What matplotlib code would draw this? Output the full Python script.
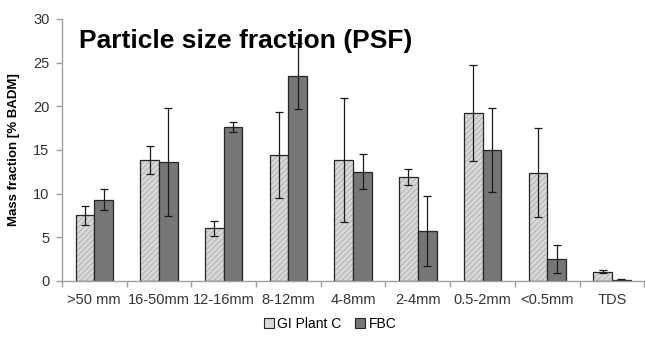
import matplotlib.pyplot as plt
import numpy as np

plt.rcParams['font.family'] = ['Liberation Sans', 'DejaVu Sans']

categories = ['>50 mm', '16-50mm', '12-16mm', '8-12mm', '4-8mm', '2-4mm', '0.5-2mm', '<0.5mm', 'TDS']
gi_plant = [7.5, 13.8, 6.0, 14.4, 13.9, 11.9, 19.2, 12.4, 1.05]
gi_err = [1.1, 1.6, 0.9, 4.9, 7.1, 0.9, 5.5, 5.1, 0.2]
fbc = [9.3, 13.6, 17.6, 23.5, 12.5, 5.7, 15.0, 2.5, 0.15]
fbc_err = [1.2, 6.2, 0.6, 3.8, 2.0, 4.0, 4.8, 1.6, 0.05]
yticks = [0, 5, 10, 15, 20, 25, 30]

light = '#d9d9d9'
dark = '#767676'
edge = '#262626'
axcol = '#a0a0a0'

fig = plt.figure(figsize=(6.45, 3.38), dpi=100)
ax = fig.add_axes([0.096, 0.169, 0.903, 0.775])

x = np.arange(len(categories))
w = 0.29

# hatched fill for the light series, then outline on top
ax.bar(x - w/2, gi_plant, w, color=light, edgecolor='#bcbcbc', hatch='//////', linewidth=0)
ax.bar(x - w/2, gi_plant, w, color='none', edgecolor=edge, linewidth=0.9, label='GI Plant C')
ax.bar(x + w/2, fbc, w, color=dark, edgecolor=edge, linewidth=0.9, label='FBC')

ax.errorbar(x - w/2, gi_plant, yerr=gi_err, fmt='none', ecolor='#1a1a1a', elinewidth=0.9, capsize=3, capthick=0.9)
ax.errorbar(x + w/2, fbc, yerr=fbc_err, fmt='none', ecolor='#1a1a1a', elinewidth=0.9, capsize=3, capthick=0.9)

ax.set_xlim(-0.5, len(categories) - 0.5)
ax.set_ylim(0, 30)
ax.set_yticks(yticks)
ax.set_xticks(x)
ax.set_xticklabels(categories)
ax.set_xticks(np.arange(len(categories) + 1) - 0.5, minor=True)
ax.tick_params(axis='x', which='major', length=0, pad=9, labelsize=10.5, labelcolor='#333333')
ax.tick_params(axis='x', which='minor', length=4, color=axcol, width=1)
ax.tick_params(axis='y', length=4, color=axcol, width=1, labelsize=10.5, labelcolor='#333333', pad=5)

for s in ['top', 'right']:
    ax.spines[s].set_visible(False)
for s in ['left', 'bottom']:
    ax.spines[s].set_color(axcol)
    ax.spines[s].set_linewidth(1)

ax.set_ylabel('Mass fraction [% BADM]', fontsize=9.5, fontweight='bold')
ax.yaxis.set_label_coords(-0.072, 0.5)
ax.text(0.03, 0.915, 'Particle size fraction (PSF)', transform=ax.transAxes,
        fontsize=19, fontweight='bold', va='center', ha='left')

h1 = plt.Rectangle((0, 0), 1, 1, facecolor=light, edgecolor=edge, linewidth=0.8)
h2 = plt.Rectangle((0, 0), 1, 1, facecolor=dark, edgecolor=edge, linewidth=0.8)
fig.legend([h1, h2], ['GI Plant C', 'FBC'], loc='center', bbox_to_anchor=(0.512, 0.042),
           ncol=2, frameon=False, fontsize=10, handlelength=0.7, handleheight=0.7,
           handletextpad=0.25, columnspacing=1.0)

fig.savefig('out.png', dpi=100)
